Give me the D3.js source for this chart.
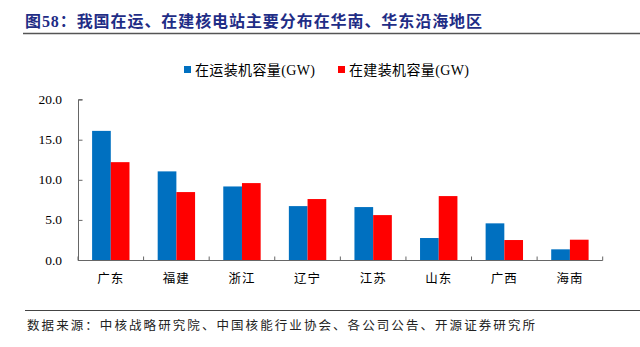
<!DOCTYPE html>
<html><head><meta charset="utf-8">
<script src="https://cdn.jsdelivr.net/npm/d3@7"></script>
<style>html,body{margin:0;padding:0;background:#fff;}svg{display:block;}</style>
</head><body>
<svg id="c" width="640" height="347"></svg>
<script>
const categories = ["广东","福建","浙江","辽宁","江苏","山东","广西","海南"];
const seriesNames = ["在运装机容量(GW)","在建装机容量(GW)"];
const operating = [16.1, 11.05, 9.17, 6.72, 6.6, 2.74, 4.57, 1.33];
const underConstruction = [12.2, 8.47, 9.59, 7.6, 5.6, 7.97, 2.49, 2.53];
const yTicks = [0, 5, 10, 15, 20];
const colors = ["#0070C0", "#FF0000"];
const titleText = "图58：我国在运、在建核电站主要分布在华南、华东沿海地区";
const sourceText = "数据来源：中核战略研究院、中国核能行业协会、各公司公告、开源证券研究所";

const svg = d3.select("#c");
const serif = "'Liberation Serif','Noto Sans CJK SC',serif";

// Title
svg.append("text").attr("x", 25).attr("y", 27)
  .attr("font-family", serif).attr("font-weight", "bold").attr("font-size", 16)
  .attr("fill", "#1F2D86").attr("textLength", 457).attr("lengthAdjust", "spacing")
  .text(titleText);
svg.append("line").attr("x1", 23).attr("x2", 640).attr("y1", 33.5).attr("y2", 33.5)
  .attr("stroke", "#555").attr("stroke-width", 1.5);

// Legend
const legendX = [184, 338];
seriesNames.forEach((n, i) => {
  svg.append("rect").attr("x", legendX[i]).attr("y", 66).attr("width", 7).attr("height", 7).attr("fill", colors[i]);
  svg.append("text").attr("x", legendX[i] + 11).attr("y", 75)
    .attr("font-family", serif).attr("font-size", 14).attr("fill", "#000")
    .attr("textLength", 120).attr("lengthAdjust", "spacing").text(n);
});

// Scales
const x0 = d3.scaleBand().domain(categories).range([78, 602.7]).paddingInner(0).paddingOuter(0);
const x1 = d3.scaleBand().domain([0, 1]).range([0, x0.bandwidth()]).paddingInner(0).paddingOuter(0.754);
const y = d3.scaleLinear().domain([0, 20]).range([260, 99.6]);

// Bars
const data = categories.map((c, i) => ({c, v: [operating[i], underConstruction[i]]}));
const g = svg.append("g");
data.forEach(d => {
  d.v.forEach((v, s) => {
    g.append("rect").attr("x", x0(d.c) + x1(s)).attr("y", y(v))
      .attr("width", x1.bandwidth()).attr("height", y(0) - y(v)).attr("fill", colors[s]);
  });
});

// Y axis
const yAxis = svg.append("g").attr("transform", "translate(78.5,0)")
  .call(d3.axisRight(y).tickValues(yTicks).tickSize(4).tickFormat(""));
yAxis.select(".domain").attr("stroke", "#666").attr("d", `M4,${y(20)}H0V${y(0)}`);
yAxis.selectAll(".tick line").attr("stroke", "#666");
yTicks.forEach(t => {
  svg.append("text").attr("x", 62).attr("y", y(t) + 4.5).attr("text-anchor", "end")
    .attr("font-family", serif).attr("font-size", 13.5).attr("fill", "#000").text(d3.format(".1f")(t));
});

// X axis
const xAxisG = svg.append("g").attr("transform", "translate(0,260.5)");
xAxisG.append("line").attr("x1", 78).attr("x2", 602.7).attr("y1", 0).attr("y2", 0).attr("stroke", "#666").attr("stroke-width", 1.2);
const bounds = categories.map(c => x0(c)).concat([x0.range()[1]]);
bounds.forEach(b => {
  xAxisG.append("line").attr("x1", b).attr("x2", b).attr("y1", 0).attr("y2", -4).attr("stroke", "#666");
});
categories.forEach(c => {
  svg.append("text").attr("x", x0(c) + x0.bandwidth() / 2).attr("y", 283)
    .attr("text-anchor", "middle").attr("font-family", serif).attr("font-size", 12.5)
    .attr("letter-spacing", 1).attr("fill", "#000").text(c);
});

// Source
svg.append("line").attr("x1", 25).attr("x2", 640).attr("y1", 310.5).attr("y2", 310.5)
  .attr("stroke", "#444").attr("stroke-width", 1.2);
svg.append("text").attr("x", 27).attr("y", 329.5)
  .attr("font-family", serif).attr("font-size", 12.5).attr("fill", "#222")
  .attr("textLength", 508).attr("lengthAdjust", "spacing").text(sourceText);
</script>
</body></html>
